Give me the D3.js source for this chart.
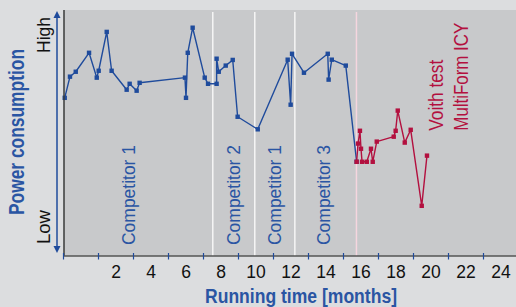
<!DOCTYPE html>
<html>
<head>
<meta charset="utf-8">
<title>Power consumption</title>
<script src="https://cdn.jsdelivr.net/npm/d3@7"></script>
<style>
body { margin: 0; background: #dcdddf; }
svg { display: block; font-family: "Liberation Sans", Arial, sans-serif; }
</style>
</head>
<body>
<svg id="chart"></svg>
<script>
// running time (months) and relative power (0 = low, 100 = high)
var blueMonths = [-0.93, -0.63, -0.30, 0.46, 0.90, 1.01, 1.47, 1.75, 2.61, 2.78, 3.18, 3.35,
	5.94, 6.00, 6.10, 6.38, 7.07, 7.26, 7.75, 7.75, 7.87, 8.27, 8.67, 8.95, 10.10,
	11.81, 11.98, 12.06, 12.74, 14.10, 14.15, 14.33, 15.13, 15.75];
var bluePower = [64.3, 72.9, 74.9, 82.6, 72.5, 75.3, 91.1, 75.3, 67.6, 70.0, 67.2, 70.4,
	72.5, 64.3, 82.6, 92.8, 72.5, 70.0, 70.0, 80.2, 74.9, 77.4, 79.7, 56.6, 51.5,
	79.8, 61.5, 82.2, 74.5, 82.2, 71.7, 79.8, 77.4, 38.3];
var redMonths = [15.75, 15.83, 15.94, 16.00, 16.06, 16.33, 16.57, 16.67, 16.90,
	17.87, 17.98, 18.10, 18.50, 18.84, 19.47, 19.77];
var redPower = [38.3, 45.7, 50.9, 43.6, 38.3, 38.3, 43.6, 38.3, 46.5,
	48.5, 50.9, 59.1, 46.1, 51.3, 20.4, 40.8];

var dividerMonths = [7.53, 9.93, 12.22];
var voithStart = 15.74;
var segmentNames = ["Competitor 1", "Competitor 2", "Competitor 1", "Competitor 3"];
var segmentMonths = [3.09, 9.09, 11.43, 14.23];
var tickLabels = [2, 4, 6, 8, 10, 12, 14, 16, 18, 20, 22, 24];
var tickMarks = [-1, 1, 3, 5, 7, 9, 11, 13, 15, 17, 19, 21, 23];

var W = 516, H = 307;
var blue = "#1f4b9c", red = "#b3103f", textBlue = "#2a55a3";

var svg = d3.select("#chart").attr("width", W).attr("height", H);

var x = d3.scaleLinear().domain([-1, 25]).range([63.5, 518.5]);
var y = d3.scaleLinear().domain([0, 100]).range([256, 10]);

svg.append("rect").attr("width", W).attr("height", H).attr("fill", "#dcdddf");
// plot area
svg.append("rect").attr("x", 64).attr("y", 10).attr("width", W - 64).attr("height", 246)
	.attr("fill", "#c8c9cb");

// period dividers
svg.selectAll(".divider").data(dividerMonths).enter().append("line")
	.attr("x1", d => x(d)).attr("x2", d => x(d))
	.attr("y1", 12).attr("y2", 256)
	.attr("stroke", "#f5f5f5").attr("stroke-width", 1.5);
svg.append("line")
	.attr("x1", x(voithStart)).attr("x2", x(voithStart))
	.attr("y1", 12).attr("y2", 256)
	.attr("stroke", "#f6d6df").attr("stroke-width", 1.5);

// segment labels
svg.selectAll(".seg").data(segmentNames).enter().append("text")
	.attr("transform", (d, i) => "translate(" + x(segmentMonths[i]) + ",245) rotate(-90)")
	.attr("font-size", 19).attr("fill", textBlue)
	.attr("textLength", 100).attr("lengthAdjust", "spacingAndGlyphs")
	.text(d => d);

svg.append("text")
	.attr("transform", "translate(442.7,130.7) rotate(-90)")
	.attr("font-size", 20).attr("fill", red)
	.attr("textLength", 71).attr("lengthAdjust", "spacingAndGlyphs")
	.text("Voith test");
svg.append("text")
	.attr("transform", "translate(467.7,130.7) rotate(-90)")
	.attr("font-size", 20).attr("fill", red)
	.attr("textLength", 108).attr("lengthAdjust", "spacingAndGlyphs")
	.text("MultiForm ICY");

// series
var line = d3.line().x(d => x(d[0])).y(d => y(d[1]));
function drawSeries(months, power, color) {
	var pts = d3.zip(months, power);
	svg.append("path").datum(pts).attr("d", line)
		.attr("fill", "none").attr("stroke", color).attr("stroke-width", 1.4)
		.attr("stroke-linejoin", "round");
	svg.append("g").selectAll("rect").data(pts).enter().append("rect")
		.attr("x", d => x(d[0]) - 2.2).attr("y", d => y(d[1]) - 2.2)
		.attr("width", 4.4).attr("height", 4.4).attr("fill", color);
}
drawSeries(blueMonths, bluePower, blue);
drawSeries(redMonths, redPower, red);

// frame: left edge and bottom axis
svg.append("line").attr("x1", 64).attr("x2", 64).attr("y1", 10).attr("y2", 256)
	.attr("stroke", "#3a3a3a").attr("stroke-width", 1.5);
svg.append("line").attr("x1", 63).attr("x2", W).attr("y1", 256).attr("y2", 256)
	.attr("stroke", "#555").attr("stroke-width", 1.5);

svg.selectAll(".tick").data(tickMarks).enter().append("line")
	.attr("x1", d => x(d)).attr("x2", d => x(d))
	.attr("y1", 253).attr("y2", 259.5)
	.attr("stroke", blue).attr("stroke-width", 1.2);

svg.selectAll(".tlab").data(tickLabels).enter().append("text")
	.attr("x", d => x(d)).attr("y", 278)
	.attr("text-anchor", "middle").attr("font-size", 17.5).attr("fill", "#111")
	.text(d => d);

svg.append("text").attr("x", 301).attr("y", 302.5)
	.attr("text-anchor", "middle").attr("font-size", 20.5).attr("font-weight", "bold")
	.attr("fill", textBlue)
	.attr("textLength", 192).attr("lengthAdjust", "spacingAndGlyphs")
	.text("Running time [months]");

// y axis: double arrow with High / Low
svg.append("line").attr("x1", 57).attr("x2", 57).attr("y1", 15).attr("y2", 249)
	.attr("stroke", blue).attr("stroke-width", 1.5);
svg.append("path").attr("d", "M57,11 L60.5,18 L53.5,18 Z").attr("fill", blue);
svg.append("path").attr("d", "M57,253 L60.5,246 L53.5,246 Z").attr("fill", blue);

svg.append("text").attr("transform", "translate(50,53) rotate(-90)")
	.attr("font-size", 19).attr("fill", "#111")
	.attr("textLength", 36).attr("lengthAdjust", "spacingAndGlyphs")
	.text("High");
svg.append("text").attr("transform", "translate(50,244) rotate(-90)")
	.attr("font-size", 19).attr("fill", "#111")
	.attr("textLength", 34).attr("lengthAdjust", "spacingAndGlyphs")
	.text("Low");

svg.append("text").attr("transform", "translate(24,132) rotate(-90)")
	.attr("text-anchor", "middle").attr("font-size", 22).attr("font-weight", "bold")
	.attr("fill", textBlue)
	.attr("textLength", 166).attr("lengthAdjust", "spacingAndGlyphs")
	.text("Power consumption");
</script>
</body>
</html>
